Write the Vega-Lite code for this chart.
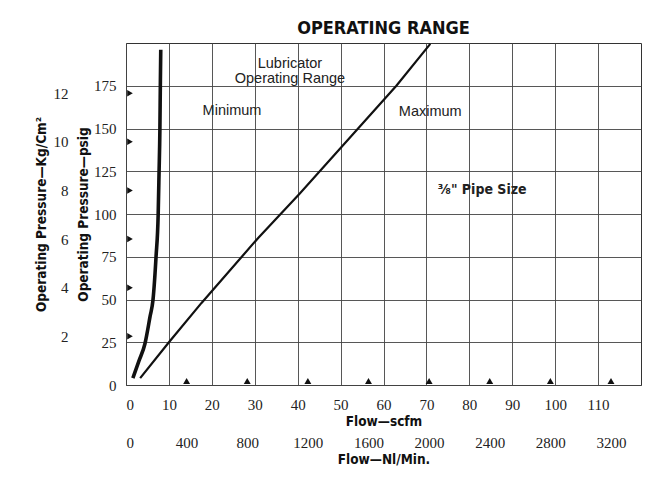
{
  "$schema": "https://vega.github.io/schema/vega-lite/v6.json",
  "autosize": {"type": "none"},
  "width": 515,
  "height": 342,
  "padding": {"left": 126, "top": 43, "right": 23, "bottom": 96},
  "background": "#ffffff",
  "title": {
    "text": "OPERATING RANGE",
    "anchor": "middle",
    "offset": 1,
    "font": "DejaVu Sans Condensed",
    "fontSize": 18,
    "fontWeight": "bold",
    "color": "#111111"
  },
  "config": {
    "view": {"stroke": "#333333", "strokeWidth": 1},
    "axis": {
      "labelFont": "Liberation Serif",
      "labelFontSize": 15,
      "labelColor": "#222222",
      "titleFont": "DejaVu Sans Condensed",
      "titleFontSize": 13.5,
      "titleFontWeight": "bold",
      "titleColor": "#111111",
      "ticks": false,
      "domain": false,
      "gridColor": "#444444",
      "gridWidth": 0.9
    }
  },
  "datasets": {
    "curves": [
      {"series": "Minimum", "scfm": 1.6, "psig": 4},
      {"series": "Minimum", "scfm": 3.0, "psig": 14},
      {"series": "Minimum", "scfm": 4.4, "psig": 24},
      {"series": "Minimum", "scfm": 5.6, "psig": 40},
      {"series": "Minimum", "scfm": 6.3, "psig": 50},
      {"series": "Minimum", "scfm": 7.0, "psig": 75},
      {"series": "Minimum", "scfm": 7.5, "psig": 100},
      {"series": "Minimum", "scfm": 7.7, "psig": 124},
      {"series": "Minimum", "scfm": 7.9, "psig": 150},
      {"series": "Minimum", "scfm": 8.0, "psig": 175},
      {"series": "Minimum", "scfm": 8.1, "psig": 196},
      {"series": "Maximum", "scfm": 3.3, "psig": 4},
      {"series": "Maximum", "scfm": 10.0, "psig": 25},
      {"series": "Maximum", "scfm": 17.6, "psig": 48},
      {"series": "Maximum", "scfm": 30.8, "psig": 86},
      {"series": "Maximum", "scfm": 40.5, "psig": 112},
      {"series": "Maximum", "scfm": 63.0, "psig": 175},
      {"series": "Maximum", "scfm": 70.9, "psig": 199.5}
    ],
    "kgTicks": [
      {"kg": 2}, {"kg": 4}, {"kg": 6}, {"kg": 8}, {"kg": 10}, {"kg": 12}
    ],
    "nlTicks": [
      {"nl": 400}, {"nl": 800}, {"nl": 1200}, {"nl": 1600},
      {"nl": 2000}, {"nl": 2400}, {"nl": 2800}, {"nl": 3200}
    ],
    "notes": [
      {"label": "Lubricator", "scfm": 38.2, "psig": 188},
      {"label": "Operating Range", "scfm": 38.2, "psig": 179},
      {"label": "Minimum", "scfm": 24.7, "psig": 160},
      {"label": "Maximum", "scfm": 70.9, "psig": 159.6}
    ],
    "boldNotes": [
      {"label": "⅜\" Pipe Size", "scfm": 83, "psig": 114}
    ]
  },
  "layer": [
    {
      "data": {"name": "curves"},
      "transform": [{"filter": "datum.series === 'Maximum'"}],
      "mark": {"type": "line", "color": "#111111", "strokeWidth": 2.2},
      "encoding": {
        "x": {
          "field": "scfm", "type": "quantitative",
          "scale": {"domain": [0, 120], "nice": false, "zero": false},
          "axis": {
            "values": [0, 10, 20, 30, 40, 50, 60, 70, 80, 90, 100, 110],
            "grid": true,
            "title": "Flow—scfm",
            "labelPadding": 12,
            "titlePadding": 2,
            "orient": "bottom"
          }
        },
        "y": {
          "field": "psig", "type": "quantitative",
          "scale": {"domain": [0, 200], "nice": false, "zero": false},
          "axis": {
            "values": [0, 25, 50, 75, 100, 125, 150, 175],
            "grid": true,
            "title": "Operating Pressure—psig",
            "labelPadding": 10,
            "titlePadding": 3,
            "orient": "left"
          }
        },
        "order": {"field": "psig", "type": "quantitative"}
      }
    },
    {
      "data": {"name": "curves"},
      "transform": [{"filter": "datum.series === 'Minimum'"}],
      "mark": {"type": "line", "color": "#111111", "strokeWidth": 3.6, "interpolate": "monotone"},
      "encoding": {
        "x": {"field": "scfm", "type": "quantitative", "scale": {"domain": [0, 120], "nice": false, "zero": false}, "axis": null},
        "y": {"field": "psig", "type": "quantitative", "scale": {"domain": [0, 200], "nice": false, "zero": false}, "axis": null},
        "order": {"field": "psig", "type": "quantitative"}
      }
    },
    {
      "data": {"name": "kgTicks"},
      "mark": {"type": "point", "shape": "triangle-right", "filled": true, "color": "#111111", "size": 42, "opacity": 1, "xOffset": 4},
      "encoding": {
        "x": {"datum": 0, "type": "quantitative", "scale": {"domain": [0, 120], "nice": false, "zero": false}, "axis": null},
        "y": {
          "field": "kg", "type": "quantitative",
          "scale": {"domain": [0, 14.062], "nice": false, "zero": false},
          "axis": {
            "orient": "left",
            "offset": 50,
            "values": [2, 4, 6, 8, 10, 12],
            "grid": false,
            "title": "Operating Pressure—Kg/Cm²",
            "labelPadding": 8,
            "titlePadding": 5
          }
        }
      }
    },
    {
      "data": {"name": "nlTicks"},
      "mark": {"type": "point", "shape": "triangle-up", "filled": true, "color": "#111111", "size": 48, "opacity": 1, "yOffset": -4},
      "encoding": {
        "x": {
          "field": "nl", "type": "quantitative",
          "scale": {"domain": [0, 3398], "nice": false, "zero": false},
          "axis": {
            "orient": "bottom",
            "offset": 38,
            "values": [0, 400, 800, 1200, 1600, 2000, 2400, 2800, 3200],
            "format": "d",
            "grid": false,
            "title": "Flow—Nl/Min.",
            "labelPadding": 12,
            "titlePadding": 2
          }
        },
        "y": {"datum": 0, "type": "quantitative", "scale": {"domain": [0, 200], "nice": false, "zero": false}, "axis": null}
      }
    },
    {
      "data": {"name": "notes"},
      "mark": {"type": "text", "font": "Liberation Sans", "fontSize": 14.5, "color": "#222222", "align": "center", "baseline": "middle"},
      "encoding": {
        "x": {"field": "scfm", "type": "quantitative", "scale": {"domain": [0, 120], "nice": false, "zero": false}, "axis": null},
        "y": {"field": "psig", "type": "quantitative", "scale": {"domain": [0, 200], "nice": false, "zero": false}, "axis": null},
        "text": {"field": "label"}
      }
    },
    {
      "data": {"name": "boldNotes"},
      "mark": {"type": "text", "font": "DejaVu Sans Condensed", "fontSize": 14, "fontWeight": "bold", "color": "#222222", "align": "center", "baseline": "middle"},
      "encoding": {
        "x": {"field": "scfm", "type": "quantitative", "scale": {"domain": [0, 120], "nice": false, "zero": false}, "axis": null},
        "y": {"field": "psig", "type": "quantitative", "scale": {"domain": [0, 200], "nice": false, "zero": false}, "axis": null},
        "text": {"field": "label"}
      }
    }
  ],
  "resolve": {"scale": {"x": "independent", "y": "independent"}}
}
